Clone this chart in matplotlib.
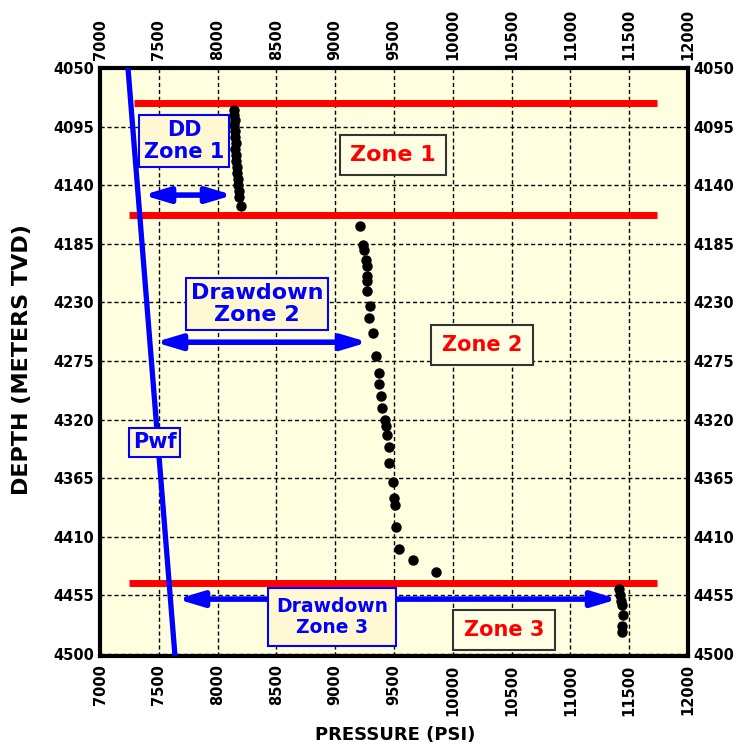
import matplotlib
matplotlib.use("Agg")
import matplotlib.pyplot as plt
import numpy as np

# ---------------- data ----------------
x_ticks = [7000, 7500, 8000, 8500, 9000, 9500, 10000, 10500, 11000, 11500, 12000]
y_ticks = [4050, 4095, 4140, 4185, 4230, 4275, 4320, 4365, 4410, 4455, 4500]

zone1_psi = [8137, 8137, 8146, 8137, 8146, 8146, 8154, 8146, 8154, 8154, 8163, 8163, 8171, 8171, 8180, 8180, 8197]
zone1_depth = [4082.0, 4085.8, 4089.6, 4093.5, 4098.1, 4102.7, 4107.3, 4111.9, 4116.5, 4121.1,
               4125.8, 4130.4, 4135.0, 4139.6, 4144.2, 4148.8, 4155.7]

zone2_psi = [9210, 9239, 9244, 9258, 9267, 9273, 9273, 9273, 9292, 9286, 9324, 9343, 9375, 9375,
             9386, 9400, 9422, 9428, 9442, 9456, 9456, 9493, 9499, 9507, 9521, 9541, 9660, 9853]
zone2_depth = [4171.6, 4185.7, 4189.5, 4197.2, 4202.4, 4210.0, 4213.9, 4221.6, 4233.1, 4242.0,
               4253.5, 4271.5, 4284.3, 4292.5, 4301.7, 4311.1, 4320.1, 4325.3, 4331.6, 4341.1,
               4353.4, 4368.3, 4380.3, 4385.4, 4402.6, 4419.5, 4428.2, 4437.1]

zone3_psi = [11415, 11424, 11432, 11441, 11449, 11441, 11441]
zone3_depth = [4450.4, 4455.0, 4459.7, 4462.7, 4470.4, 4478.9, 4483.5]

# flowing bottom-hole pressure line
pwf_psi = [7238, 7638]
pwf_depth = [4050, 4502]

# zone boundaries (red lines)
boundary_depth = [4076.7, 4163.0, 4445.5]
boundary_start = [7289, 7247, 7243]
boundary_end = [11736, 11736, 11736]

# drawdown arrows
dd_depth = [4147.6, 4260.6, 4457.9]
dd_from = [7366, 7468, 7655]
dd_to = [8131, 9279, 11405]

# ---------------- figure ----------------
plt.rcParams['font.family'] = ['DejaVu Sans']
fig = plt.figure(figsize=(7.36, 7.49), dpi=100)
ax = fig.add_axes([100 / 736, 1 - 656 / 749, 588 / 736, 588 / 749])
ax.set_facecolor('#FFFFE0')

ax.set_xlim(7000, 12000)
ax.set_ylim(4501.6, 4050)

ax.set_xticks(x_ticks)
ax.set_yticks(y_ticks)
ax.set_xticklabels([str(v) for v in x_ticks], rotation=90, fontsize=10.5, fontweight='bold')
ax.set_yticklabels([str(v) for v in y_ticks], fontsize=10.5, fontweight='bold')
ax.tick_params(axis='both', length=0, top=True, right=True, labeltop=True, labelright=True)
ax.tick_params(axis='x', pad=6)
ax.tick_params(axis='y', pad=4)
for t in ax.xaxis.get_major_ticks():
    t.label1.set_rotation(90)
    t.label2.set_rotation(90)
    t.label2.set_fontweight('bold')
    t.label2.set_fontsize(10.5)
for t in ax.yaxis.get_major_ticks():
    t.label2.set_fontweight('bold')
    t.label2.set_fontsize(10.5)

ax.grid(True, color='black', linestyle=(0, (3, 2)), linewidth=1.0)
ax.set_axisbelow(True)
for s in ax.spines.values():
    s.set_linewidth(3)
    s.set_color('black')

# zone boundaries
for d, a, b in zip(boundary_depth, boundary_start, boundary_end):
    ax.plot([a, b], [d, d], color='#FF0000', linewidth=5, solid_capstyle='butt', zorder=3)

# Pwf line
ax.plot(pwf_psi, pwf_depth, color='#0000FF', linewidth=3.8, zorder=4)

# data points
ax.plot(zone1_psi, zone1_depth, 'o', color='black', markersize=6.5, zorder=5)
ax.plot(zone2_psi, zone2_depth, 'o', color='black', markersize=6.5, zorder=5)
ax.plot(zone3_psi, zone3_depth, 'o', color='black', markersize=6.5, zorder=5)

# drawdown arrows
for d, a, b in zip(dd_depth, dd_from, dd_to):
    ax.annotate('', xy=(b, d), xytext=(a, d),
                arrowprops=dict(arrowstyle='<|-|>,head_length=1.0,head_width=0.3',
                                color='#0000FF', lw=4, mutation_scale=15,
                                shrinkA=0, shrinkB=0), zorder=4)

# labels
blue_box = dict(boxstyle='square,pad=0.25', facecolor='#FFF8D2', edgecolor='#0000FF', linewidth=1.5)
red_box = dict(boxstyle='square,pad=0.45', facecolor='#FFFFE6', edgecolor='#333333', linewidth=1.5)

def tx(px, py, s, size, color, box, pad):
    b = dict(box)
    b['boxstyle'] = 'square,pad=%s' % pad
    ax.text((px - 100) / 588, 1 - (py - 68) / 588, s, transform=ax.transAxes,
            ha='center', va='center', fontsize=size, fontweight='bold', color=color,
            bbox=b, zorder=6, linespacing=1.15)

tx(184, 141, 'DD\nZone 1', 15, '#0000FF', blue_box, 0.25)
tx(257, 304, 'Drawdown\nZone 2', 16, '#0000FF', blue_box, 0.22)
tx(154.5, 442.5, 'Pwf', 15, '#0000FF', blue_box, 0.2)
tx(332, 617, 'Drawdown\nZone 3', 13.5, '#0000FF', blue_box, 0.45)
tx(393, 155, 'Zone 1', 16, '#FF0000', red_box, 0.45)
tx(482, 345, 'Zone 2', 15, '#FF0000', red_box, 0.5)
tx(504, 630, 'Zone 3', 15, '#FF0000', red_box, 0.5)

fig.text(22 / 736, 1 - 360 / 749, 'DEPTH (METERS TVD)', rotation=90, ha='center', va='center',
         fontsize=16, fontweight='bold')
fig.text(395 / 736, 1 - 735 / 749, 'PRESSURE (PSI)', ha='center', va='center',
         fontsize=13, fontweight='bold')

fig.savefig('out.png', dpi=100, facecolor='white')
